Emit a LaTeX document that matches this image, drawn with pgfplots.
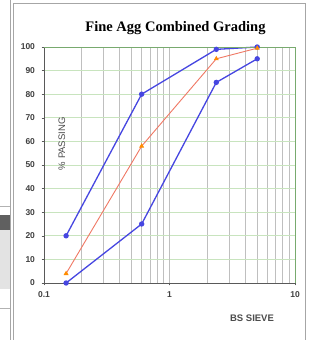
\documentclass[border=0pt]{standalone}
\usepackage{pgfplots}
\pgfplotsset{compat=1.18}
\usepackage{fontspec}
\setmainfont{Liberation Serif}
\newfontfamily\lab{Liberation Sans}
\definecolor{bl}{RGB}{70,70,225}
\definecolor{sal}{RGB}{240,120,100}
\definecolor{orm}{RGB}{255,140,0}
\definecolor{gl}{RGB}{200,228,190}
\definecolor{gb}{RGB}{120,170,110}
\begin{document}
\begin{tikzpicture}
\useasboundingbox (0pt,0pt) rectangle (310pt,340pt);
\fill[white] (0pt,0pt) rectangle (310pt,340pt);
\fill[gray!75!black] (0pt,110pt) rectangle (10pt,125pt);
\fill[gray!22] (0pt,51pt) rectangle (10pt,110pt);
\draw[gray!60] (0pt,134pt) -- (10pt,134pt);
\draw[gray!60] (0pt,32pt) -- (10pt,32pt);
\draw[gray!70,line width=0.8] (10.7pt,0pt) -- (10.7pt,340pt);
\draw[gray!70,line width=0.8] (13pt,0pt) -- (13pt,337pt) -- (305pt,337pt) -- (305pt,0pt);
\node[font=\bfseries\fontsize{14.5}{16}\selectfont] at (175.5pt,312pt) {Fine Agg Combined Grading};
\begin{axis}[at={(44pt,57pt)}, anchor=south west, scale only axis,
  width=251pt, height=236pt,
  xmode=log, xmin=0.1, xmax=10, ymin=0, ymax=100,
  ytick={0,10,...,100}, xtick={0.1,1,10}, xticklabels={0.1,1,10},
  xmajorgrids=false, xminorgrids=true, ymajorgrids=true,
  major grid style={gl, line width=0.7pt},
  minor grid style={gray!50, line width=0.8pt},
  extra x ticks={1}, extra x tick labels={},
  extra x tick style={xmajorgrids=true, major grid style={gray!50, line width=0.8pt}},
  tick pos=left,
  tick align=outside, major tick length=2.5pt, minor tick length=0pt,
  xtick style={gray!70!black}, ytick style={gray!70!black},
  axis line style={gray!70!black, line width=0.8pt},
  ticklabel style={font=\lab\bfseries\fontsize{8.5}{9}\selectfont, text=black!75},
  yticklabel style={xshift=-3pt},
  xticklabel style={yshift=-3pt},
  /pgf/number format/assume math mode=true,
  clip=false]
\addplot[bl, line width=1.3pt, mark=*, mark size=2pt, mark options={fill=bl}] coordinates {(0.15,20) (0.6,80) (2.36,99) (5,100)};
\addplot[bl, line width=1.3pt, mark=*, mark size=2pt, mark options={fill=bl}] coordinates {(0.15,0) (0.6,25) (2.36,85) (5,95)};
\addplot[sal, line width=0.9pt, mark=triangle*, mark size=2pt, mark options={fill=orm, draw=orm}] coordinates {(0.15,4) (0.6,58) (2.36,95) (5,99.5)};
\draw[gb, line width=0.8pt] (rel axis cs:0,1) -- (rel axis cs:1,1) -- (rel axis cs:1,0);
\node[rotate=90, font=\lab\fontsize{9.5}{10}\selectfont, text=black!70] at (axis cs:0.139,59) {\% PASSING};
\end{axis}
\node[font=\lab\bfseries\fontsize{9.5}{10}\selectfont, text=black!70] at (252pt,22pt) {BS SIEVE};
\end{tikzpicture}
\end{document}
